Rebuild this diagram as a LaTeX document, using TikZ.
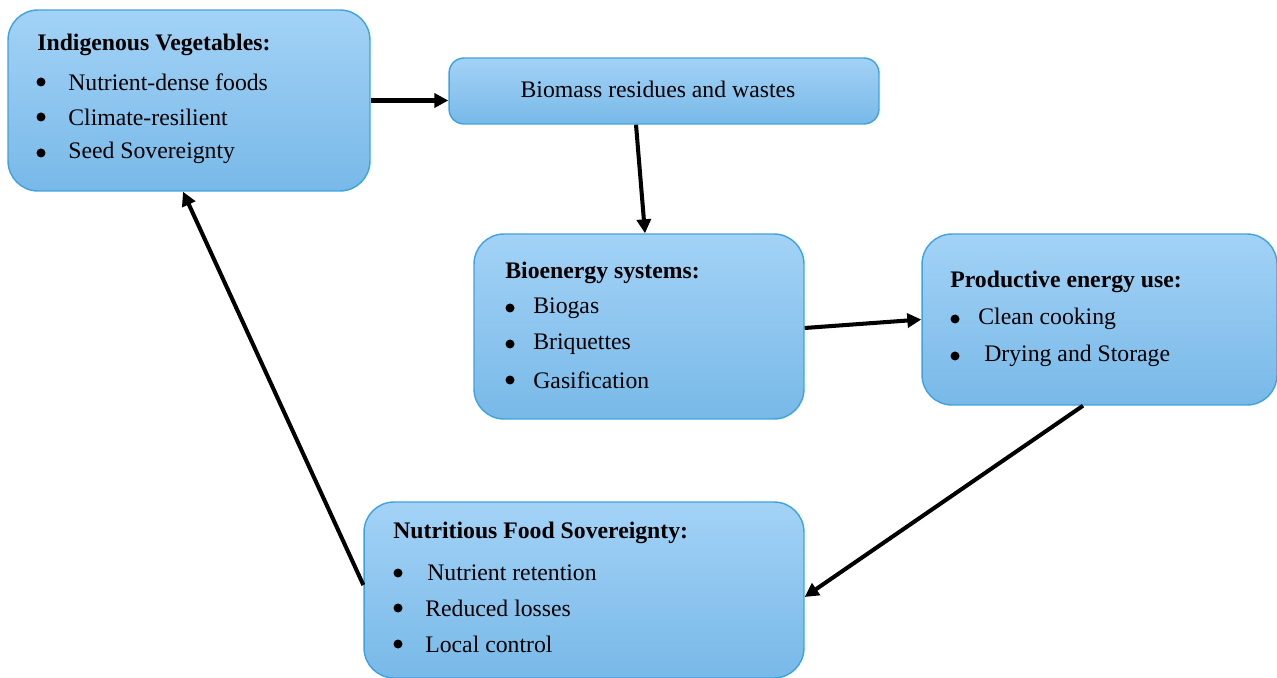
\documentclass[tikz,border=0pt]{standalone}
\usepackage{fontspec}
\setmainfont{Liberation Serif}
\usetikzlibrary{arrows.meta}

\definecolor{boxtop}{HTML}{A3D2F6}
\definecolor{boxbot}{HTML}{78B9E8}
\definecolor{boxline}{HTML}{3DA3DE}

\begin{document}
\begin{tikzpicture}[x=0.02cm,y=-0.02cm,font=\fontsize{13.5}{16}\selectfont]
    \tikzstyle{box}=[draw=boxline,line width=0.8pt,rounded corners=0.6cm,top color=boxtop,bottom color=boxbot,inner sep=0pt]
    \tikzstyle{flow}=[-{Triangle[length=0.28cm,width=0.28cm]},line width=2.3pt,black]
    \tikzstyle{title}=[anchor=west,font=\fontsize{13.5}{16}\selectfont\bfseries,inner sep=0pt]
    \tikzstyle{item}=[anchor=west,inner sep=0pt]
    \tikzstyle{dot}=[circle,fill=black,minimum size=0.18cm,inner sep=0pt]

    \useasboundingbox (0,0) rectangle (1277,678);

    % Draw the boxes
    \node[box,minimum width=7.24cm,minimum height=3.62cm] (ind) at (189,100.5) {};
    \node[box,minimum width=8.6cm,minimum height=1.32cm,rounded corners=0.3cm] (bio) at (664,91) {};
    \node[box,minimum width=6.6cm,minimum height=3.7cm] (sys) at (639,326.5) {};
    \node[box,minimum width=7.1cm,minimum height=3.42cm] (use) at (1099.5,319.5) {};
    \node[box,minimum width=8.8cm,minimum height=3.52cm] (food) at (584,590) {};

    % Indigenous vegetables
    \node[title] (ind-t) at (37,45) {Indigenous Vegetables:};
    \foreach \name/\y/\txt in {1/82/Nutrient-dense foods,2/117/Climate-resilient,3/153/Seed Sovereignty} {
        \node[dot] (ind-d\name) at (41,\y) {};
        \node[item] (ind-\name) at (68,\y) {\txt};
    }

    % Biomass
    \node (bio-t) at (658,89) {Biomass residues and wastes};

    % Bioenergy systems
    \node[title] (sys-t) at (505,273) {Bioenergy systems:};
    \foreach \name/\y/\txt in {1/308/Biogas,2/344/Briquettes,3/380/Gasification} {
        \node[dot] (sys-d\name) at (510,\y) {};
        \node[item] (sys-\name) at (533,\y) {\txt};
    }

    % Productive energy use
    \node[title] (use-t) at (950,282) {Productive energy use:};
    \node[dot] (use-d1) at (955,319) {};
    \node[item] (use-1) at (978,319) {Clean cooking};
    \node[dot] (use-d2) at (955,356) {};
    \node[item] (use-2) at (984,356) {Drying and Storage};

    % Nutritious food sovereignty
    \node[title] (food-t) at (393,533) {Nutritious Food Sovereignty:};
    \node[dot] (food-d1) at (398,573) {};
    \node[item] (food-1) at (427,573) {Nutrient retention};
    \node[dot] (food-d2) at (398,608) {};
    \node[item] (food-2) at (425,608) {Reduced losses};
    \node[dot] (food-d3) at (398,644) {};
    \node[item] (food-3) at (425,644) {Local control};

    % Connect the boxes
    \draw[flow] (ind.east) -- (ind.east -| bio.west);
    \draw[flow] ([xshift=-0.56cm]bio.south) -- ([xshift=0.12cm]sys.north);
    \draw[flow] ([yshift=-0.03cm]sys.east) -- (use.west);
    \draw[flow] ([xshift=-0.33cm]use.south) -- ([yshift=-0.14cm]food.east);
    \draw[flow] ([yshift=0.1cm]food.west) -- ([xshift=-0.12cm]ind.south);
\end{tikzpicture}
\end{document}
